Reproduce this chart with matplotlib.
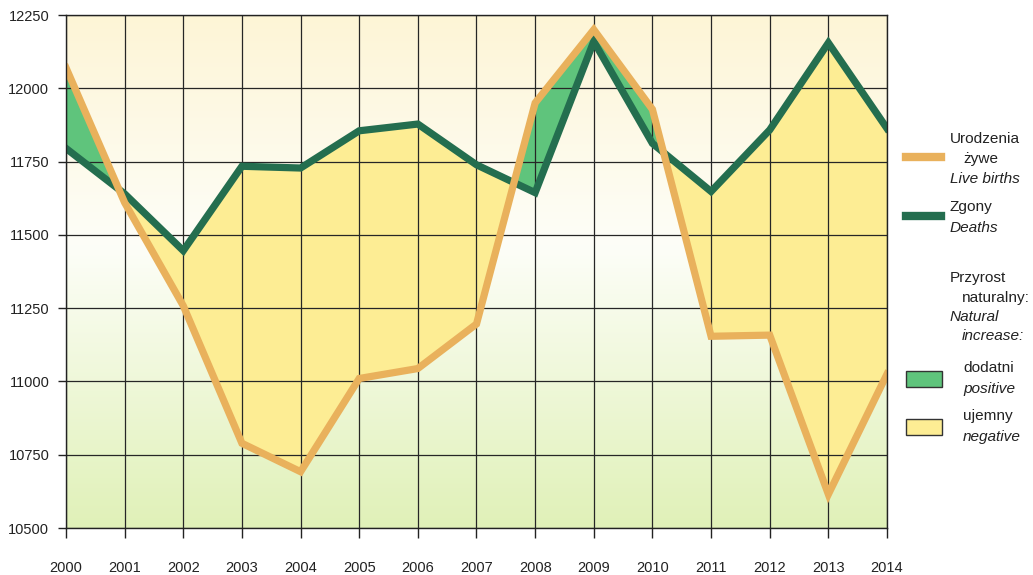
import numpy as np
import matplotlib
matplotlib.use('Agg')
import matplotlib.pyplot as plt
from matplotlib.lines import Line2D
from matplotlib.patches import Rectangle
from matplotlib.colors import LinearSegmentedColormap

plt.rcParams['font.family'] = ['Liberation Sans', 'DejaVu Sans']

# data
years = list(range(2000, 2015))
births = [12070, 11610, 11258, 10789, 10692, 11010, 11044, 11196, 11950, 12200,
          11928, 11154, 11158, 10615, 11025]
deaths = [11795, 11640, 11446, 11734, 11728, 11855, 11878, 11739, 11644, 12160,
          11812, 11648, 11858, 12155, 11863]
y_ticks = [10500, 10750, 11000, 11250, 11500, 11750, 12000, 12250]

c_births = '#e9b15c'
c_deaths = '#246e4f'
c_pos = '#5fc47c'
c_neg = '#fded94'

W, H = 1033, 575
fig = plt.figure(figsize=(W / 100, H / 100), dpi=100)
ax = fig.add_axes([66 / W, 1 - 528 / H, (887 - 66) / W, (528 - 15) / H])


def px(x, y):
    return x / W, 1 - y / H


# background gradient: cream at top, white in the middle, light green at bottom
grad = LinearSegmentedColormap.from_list(
    'bg', [(0.0, '#e0f1b8'), (0.55, '#fdfef8'), (1.0, '#fef5d6')])
ax.imshow(np.linspace(0, 1, 256).reshape(-1, 1), cmap=grad, aspect='auto',
          origin='lower', extent=(0, 1, 0, 1), transform=ax.transAxes, zorder=0)

b = np.array(births, dtype=float)
d = np.array(deaths, dtype=float)
ax.fill_between(years, b, d, where=b >= d, interpolate=True, color=c_pos,
                linewidth=0, zorder=2)
ax.fill_between(years, b, d, where=b < d, interpolate=True, color=c_neg,
                linewidth=0, zorder=2)
ax.plot(years, deaths, color=c_deaths, lw=5.2, solid_joinstyle='miter', zorder=3)
ax.plot(years, births, color=c_births, lw=5.2, solid_joinstyle='miter', zorder=4)

ax.set_xlim(2000, 2014)
ax.set_ylim(10500, 12250)
ax.set_xticks(years)
ax.set_yticks(y_ticks)
ax.grid(True, color='#262626', lw=0.9, zorder=1)
ax.set_axisbelow(False)
for gl in ax.get_xgridlines() + ax.get_ygridlines():
    gl.set_zorder(1)
for s in ax.spines.values():
    s.set_color('#222222')
    s.set_linewidth(1.0)
    s.set_zorder(5)
ax.tick_params(axis='x', direction='out', length=7, width=1, pad=17,
               labelsize=10.5, colors='#222222')
ax.tick_params(axis='y', direction='out', length=6, width=1, pad=6,
               labelsize=10.5, colors='#222222')

# legend on the right
fs = 11.1
tc = '#222222'
fig.add_artist(Line2D([906 / W, 941 / W], [1 - 157 / H] * 2, color=c_births,
                      lw=6, transform=fig.transFigure))
fig.text(*px(950, 139), 'Urodzenia', fontsize=fs, va='center', color=tc)
fig.text(*px(963, 159), 'żywe', fontsize=fs, va='center', color=tc)
fig.text(*px(950, 179), 'Live births', fontsize=fs, va='center', style='italic',
         color=tc)

fig.add_artist(Line2D([906 / W, 941 / W], [1 - 216 / H] * 2, color=c_deaths,
                      lw=6, transform=fig.transFigure))
fig.text(*px(950, 207), 'Zgony', fontsize=fs, va='center', color=tc)
fig.text(*px(950, 228), 'Deaths', fontsize=fs, va='center', style='italic',
         color=tc)

fig.text(*px(950, 278), 'Przyrost', fontsize=fs, va='center', color=tc)
fig.text(*px(962, 298), 'naturalny:', fontsize=fs, va='center', color=tc)
fig.text(*px(950, 317), 'Natural', fontsize=fs, va='center', style='italic',
         color=tc)
fig.text(*px(962, 336), 'increase:', fontsize=fs, va='center', style='italic',
         color=tc)

for y0, col, t1, t2 in [(371, c_pos, 'dodatni', 'positive'),
                        (419, c_neg, 'ujemny', 'negative')]:
    fig.add_artist(Rectangle(px(906, y0 + 16), 36 / W, 16 / H, facecolor=col,
                             edgecolor='#333333', lw=1, transform=fig.transFigure))
    fig.text(*px(963, y0 - 3), t1, fontsize=fs, va='center', color=tc)
    fig.text(*px(963, y0 + 18), t2, fontsize=fs, va='center', style='italic',
             color=tc)

fig.savefig('out.png', dpi=100)
